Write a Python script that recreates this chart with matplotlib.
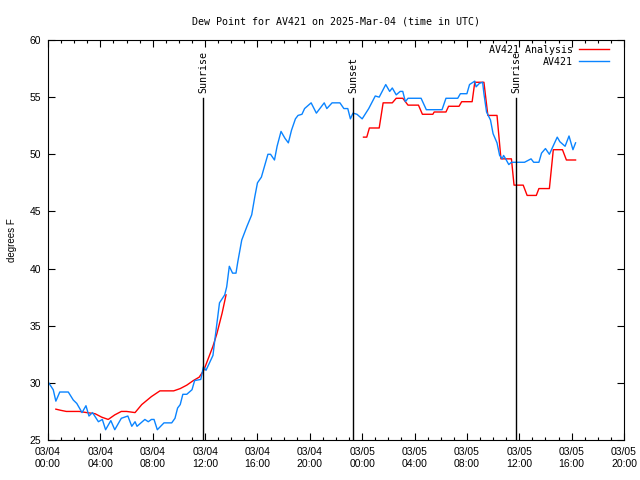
import datetime as dt
import numpy as np
import matplotlib
matplotlib.use("Agg")
import matplotlib.pyplot as plt
import matplotlib.dates as mdates

# hours after 2025-03-04 00:00 UTC
obs_hours = [0.0, 0.4, 0.6, 0.9, 1.55, 1.93, 2.2, 2.6, 2.9, 3.13, 3.4, 3.85, 4.15, 4.4,
             4.8, 5.1, 5.6, 6.1, 6.4, 6.65, 6.8, 7.4, 7.66, 7.9, 8.1, 8.35, 8.86, 9.45,
             9.7, 9.9, 10.1, 10.3, 10.6, 11.0, 11.2, 11.67, 11.87, 12.07, 12.6, 12.76,
             13.1, 13.5, 13.65, 13.85, 14.1, 14.36, 14.5, 14.8, 15.2, 15.56, 15.8, 16.0,
             16.3, 16.6, 16.8, 17.0, 17.3, 17.5, 17.8, 18.1, 18.36, 18.6, 18.9, 19.1,
             19.4, 19.6, 20.1, 20.5, 21.1, 21.3, 21.7, 22.3, 22.6, 22.9, 23.1, 23.3,
             23.6, 24.0, 24.5, 25.0, 25.3, 25.8, 26.1, 26.3, 26.6, 26.9, 27.1, 27.3,
             27.5, 28.5, 28.9, 30.1, 30.4, 31.3, 31.5, 32.0, 32.2, 32.6, 32.7, 32.95,
             33.2, 33.3, 33.5, 33.8, 34.0, 34.3, 34.5, 34.7, 34.8, 34.96, 35.2, 35.4,
             36.4, 36.9, 37.1, 37.5, 37.7, 38.0, 38.3, 38.9, 39.1, 39.5, 39.8, 40.1, 40.3]
obs_dewpt = [30.1, 29.4, 28.4, 29.2, 29.2, 28.5, 28.2, 27.4, 28.0, 27.1, 27.4, 26.6, 26.8, 25.9,
             26.7, 25.9, 26.9, 27.1, 26.2, 26.6, 26.2, 26.8, 26.6, 26.8, 26.8, 25.9, 26.5, 26.5,
             26.9, 27.8, 28.1, 29.0, 29.0, 29.4, 30.2, 30.3, 31.4, 31.1, 32.4, 33.9,
             37.0, 37.7, 38.4, 40.2, 39.6, 39.6, 40.6, 42.5, 43.7, 44.7, 46.3, 47.5,
             48.0, 49.2, 50.0, 50.0, 49.5, 50.7, 52.0, 51.4, 51.0, 52.1, 53.1, 53.4,
             53.5, 54.0, 54.5, 53.6, 54.5, 54.0, 54.5, 54.5, 54.0, 54.0, 53.1, 53.6,
             53.5, 53.1, 54.0, 55.1, 55.0, 56.1, 55.5, 55.8, 55.2, 55.5, 55.5, 54.6,
             54.9, 54.9, 53.9, 53.9, 54.9, 54.9, 55.3, 55.3, 56.1, 56.4, 55.9, 56.2,
             56.3, 55.3, 53.7, 53.0, 51.8, 51.0, 49.9, 49.6, 49.9, 49.6, 49.1, 49.3,
             49.3, 49.6, 49.3, 49.3, 50.1, 50.5, 50.0, 51.5, 51.1, 50.7, 51.6, 50.4, 51.0]

# analysis: two pieces, gap in between
ana_hours_1 = [0.6, 0.97, 1.4, 2.4, 2.95, 3.6, 4.1, 4.6, 5.1, 5.6, 6.0, 6.65, 7.16, 7.9,
               8.55, 9.1, 9.6, 10.1, 10.6, 11.1, 11.55, 11.9, 12.6, 12.9, 13.3, 13.6]
ana_dewpt_1 = [27.7, 27.6, 27.5, 27.5, 27.4, 27.3, 27.0, 26.8, 27.2, 27.5, 27.5, 27.4, 28.1, 28.8,
               29.3, 29.3, 29.3, 29.5, 29.8, 30.2, 30.5, 31.1, 33.2, 34.3, 36.1, 37.7]
ana_hours_2 = [24.1, 24.35, 24.55, 25.3, 25.6, 26.3, 26.6, 27.1, 27.5, 28.3, 28.6, 29.4,
               29.5, 30.4, 30.6, 31.4, 31.6, 32.4, 32.6, 33.3, 33.6, 34.3, 34.6, 35.4,
               35.6, 36.3, 36.6, 37.3, 37.5, 38.3, 38.6, 39.3, 39.6, 40.3]
ana_dewpt_2 = [51.5, 51.5, 52.3, 52.3, 54.5, 54.5, 54.9, 54.9, 54.3, 54.3, 53.5, 53.5,
               53.7, 53.7, 54.2, 54.2, 54.6, 54.6, 56.3, 56.3, 53.4, 53.4, 49.6, 49.6,
               47.3, 47.3, 46.4, 46.4, 47.0, 47.0, 50.4, 50.4, 49.5, 49.5]

sun_labels = ["Sunrise", "Sunset", "Sunrise"]
sun_hours = [11.84, 23.3, 35.75]

t0 = dt.datetime(2025, 3, 4)
def to_time(hours):
    return [t0 + dt.timedelta(hours=h) for h in hours]

mono = 'DejaVu Sans Mono'
sans = 'Liberation Sans'
plt.rcParams['font.family'] = sans
plt.rcParams['font.size'] = 7.5

fig = plt.figure(figsize=(6.4, 4.8), dpi=100)
ax = fig.add_axes([0.075, 0.0833, 0.9, 0.8334])

red = '#ff0000'
blue = '#0a84ff'
ax.plot(to_time(ana_hours_1), ana_dewpt_1, color=red, lw=1, label='AV421 Analysis')
ax.plot(to_time(ana_hours_2), ana_dewpt_2, color=red, lw=1)
ax.plot(to_time(obs_hours), obs_dewpt, color=blue, lw=1, label='AV421')

for lab, h in zip(sun_labels, sun_hours):
    t = t0 + dt.timedelta(hours=h)
    ax.plot([t, t], [25, 54.9], color='black', lw=1)
    ax.text(t, 55.4, lab, rotation=90, ha='center', va='bottom',
            family=mono, fontsize=7.2)

ax.set_xlim(t0, t0 + dt.timedelta(hours=44))
ax.set_ylim(25, 60)
ax.set_yticks(range(25, 61, 5))
ax.xaxis.set_major_locator(mdates.HourLocator(byhour=range(0, 24, 4)))
ax.xaxis.set_minor_locator(mdates.HourLocator())
ax.xaxis.set_major_formatter(mdates.DateFormatter('%m/%d\n%H:%M'))
ax.tick_params(which='both', direction='in', top=True, right=True, width=0.8)
ax.tick_params(which='major', length=5, pad=5)
ax.tick_params(which='minor', length=2.5)
for s in ax.spines.values():
    s.set_linewidth(0.8)

ax.set_ylabel('degrees F', labelpad=9, fontsize=7)
ax.set_title('Dew Point for AV421 on 2025-Mar-04 (time in UTC)', pad=11,
             family=mono, fontsize=7.2)
ax.legend(loc='upper right', bbox_to_anchor=(1 - 10 / 576, 1), frameon=False,
          markerfirst=False, handlelength=3, borderaxespad=0.1, labelspacing=0.2,
          handletextpad=0.6, prop={'family': mono, 'size': 7.2})

fig.savefig('out.png', dpi=100)
